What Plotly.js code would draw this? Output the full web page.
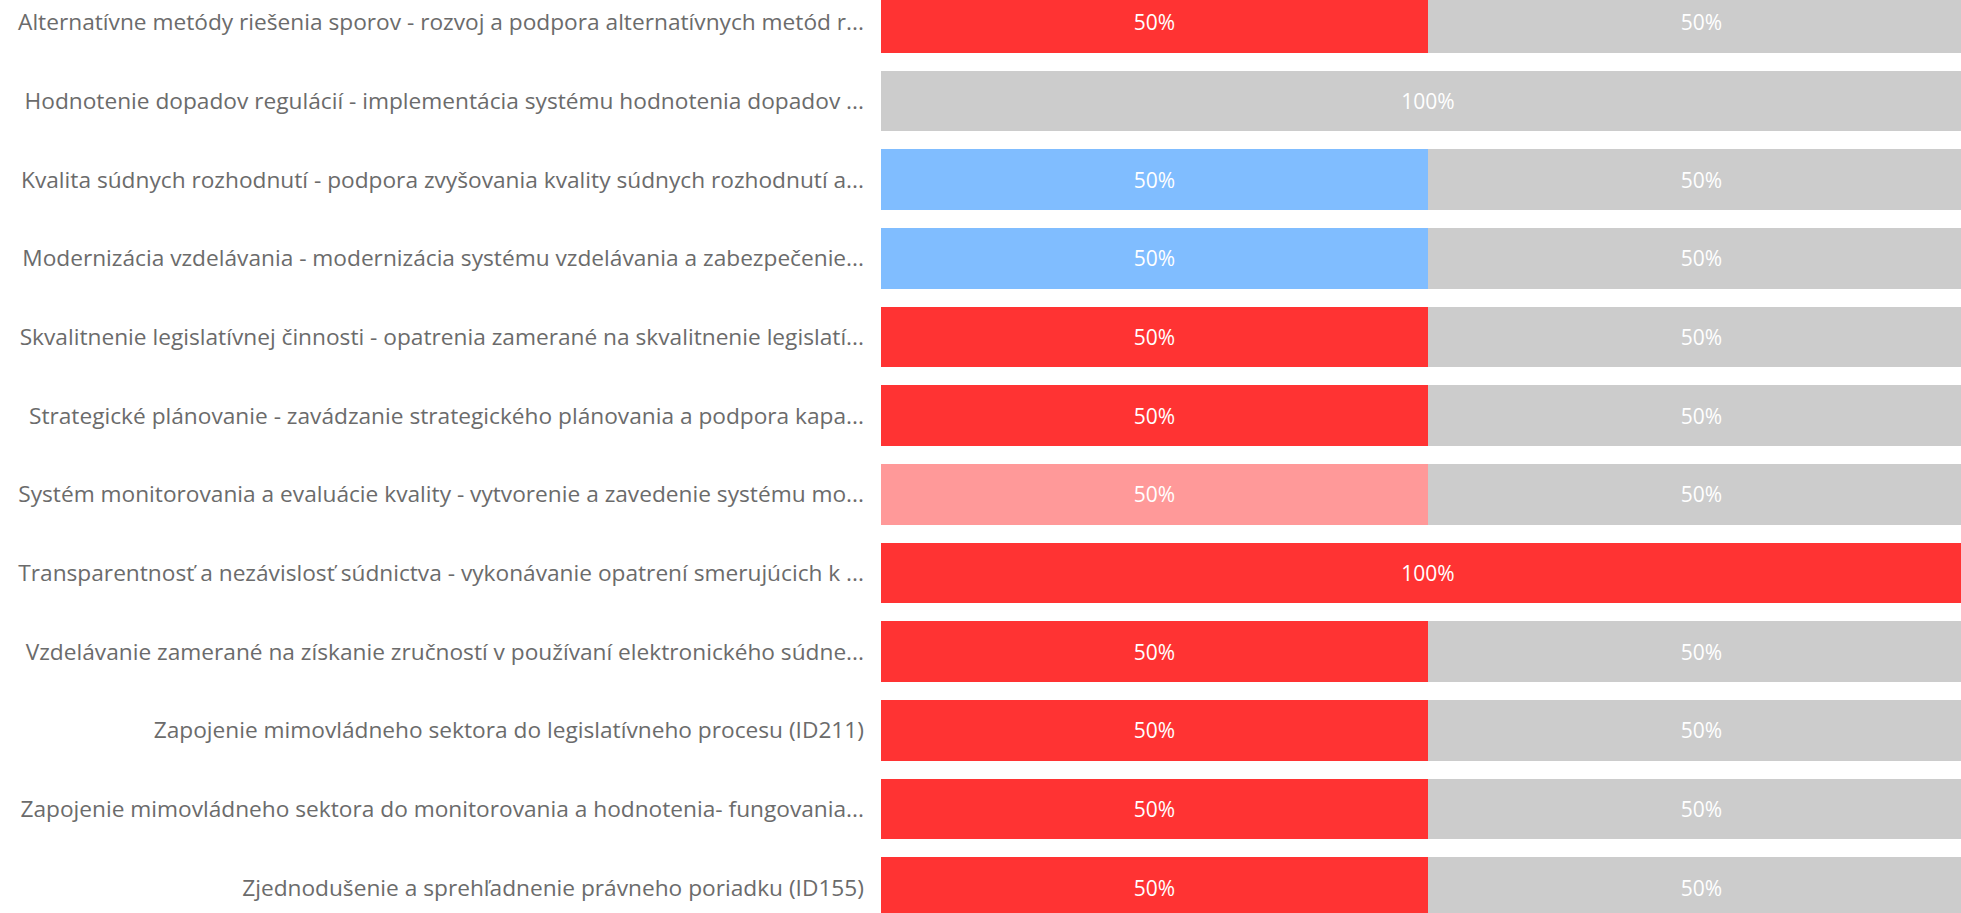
<!DOCTYPE html>
<html>
<head>
<meta charset="utf-8">
<script src="https://cdn.plot.ly/plotly-3.0.1.min.js"></script>
<style>
html, body { margin: 0; padding: 0; overflow: hidden; background: #ffffff; width: 1961px; height: 913px; }
#chart { position: absolute; left: 0; top: -17px; width: 1975px; height: 944px; }
</style>
</head>
<body>
<div id="chart"></div>
<script>
const categories = [
  "Alternatívne metódy riešenia sporov - rozvoj a podpora alternatívnych metód r...",
  "Hodnotenie dopadov regulácií - implementácia systému hodnotenia dopadov ...",
  "Kvalita súdnych rozhodnutí - podpora zvyšovania kvality súdnych rozhodnutí a...",
  "Modernizácia vzdelávania - modernizácia systému vzdelávania a zabezpečenie...",
  "Skvalitnenie legislatívnej činnosti - opatrenia zamerané na skvalitnenie legislatí...",
  "Strategické plánovanie - zavádzanie strategického plánovania a podpora kapa...",
  "Systém monitorovania a evaluácie kvality - vytvorenie a zavedenie systému mo...",
  "Transparentnosť a nezávislosť súdnictva - vykonávanie opatrení smerujúcich k ...",
  "Vzdelávanie zamerané na získanie zručností v používaní elektronického súdne...",
  "Zapojenie mimovládneho sektora do legislatívneho procesu (ID211)",
  "Zapojenie mimovládneho sektora do monitorovania a hodnotenia- fungovania...",
  "Zjednodušenie a sprehľadnenie právneho poriadku (ID155)"
];
const redValues   = [50, 0, 0, 0, 50, 50, 0, 100, 50, 50, 50, 50];
const blueValues  = [0, 0, 50, 50, 0, 0, 0, 0, 0, 0, 0, 0];
const pinkValues  = [0, 0, 0, 0, 0, 0, 50, 0, 0, 0, 0, 0];
const greyValues  = [50, 100, 50, 50, 50, 50, 50, 0, 50, 50, 50, 50];

const series = [
  {name: "red", values: redValues, color: "#FF3333"},
  {name: "blue", values: blueValues, color: "#80BDFF"},
  {name: "pink", values: pinkValues, color: "#FF9999"},
  {name: "grey", values: greyValues, color: "#CCCCCC"}
];

const fontFamily = "'Segoe UI', 'Open Sans', sans-serif";

const traces = series.map(s => ({
  type: "bar",
  orientation: "h",
  name: s.name,
  y: categories,
  x: s.values,
  marker: {color: s.color, line: {width: 0}},
  text: s.values.map(v => v ? v + "%" : ""),
  textposition: "inside",
  insidetextanchor: "middle",
  textangle: 0,
  constraintext: "none",
  insidetextfont: {family: fontFamily, size: 21, color: "#FFFFFF"},
  hoverinfo: "y+x"
}));

const layout = {
  barmode: "stack",
  bargap: 0.225,
  showlegend: false,
  margin: {l: 881, r: 0, t: 0, b: 0, pad: 0},
  paper_bgcolor: "#FFFFFF",
  plot_bgcolor: "#FFFFFF",
  font: {family: fontFamily, size: 22.7, color: "#6b6b6b"},
  xaxis: {
    range: [0, 100],
    showgrid: false,
    zeroline: false,
    showticklabels: false,
    showline: false,
    fixedrange: true
  },
  yaxis: {
    type: "category",
    autorange: "reversed",
    showgrid: false,
    zeroline: false,
    showline: false,
    ticks: "",
    ticklabelstandoff: 16,
    tickfont: {family: fontFamily, size: 22.7, color: "#6b6b6b"},
    fixedrange: true
  }
};

Plotly.newPlot("chart", traces, layout, {displayModeBar: false, responsive: false});
</script>
</body>
</html>
